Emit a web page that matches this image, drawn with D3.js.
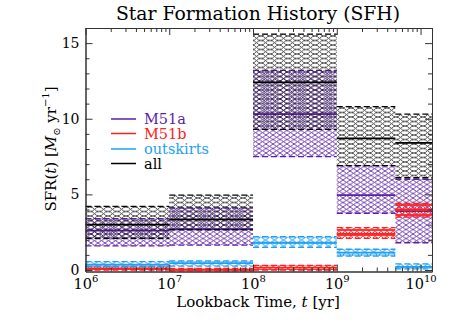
<!DOCTYPE html>
<html><head><meta charset="utf-8">
<script src="https://cdn.jsdelivr.net/npm/d3@7"></script>
<style>
body{margin:0;background:#fff;}
text{font-family:"DejaVu Serif",serif;}
</style></head>
<body><svg id="c" width="457" height="326"></svg>
<script>
// ---- data ----
const binEdges = [1e6, 1e7, 1e8, 1e9, 5e9, 1.37e10];
const seriesNames = ["M51a", "M51b", "outskirts", "all"];
const m51aVal = [2.6, 2.7, 10.3, 4.95, 3.9];
const m51aLo  = [1.6, 1.65, 7.5, 3.75, 1.8];
const m51aHi  = [3.4, 4.1, 13.2, 6.9, 6.0];
const m51bVal = [0.1, 0.02, 0.15, 2.4, 4.0];
const m51bLo  = [0.0, -0.05, 0.0, 2.1, 3.5];
const m51bHi  = [0.25, 0.1, 0.3, 2.8, 4.4];
const outVal  = [0.35, 0.45, 1.8, 1.15, 0.2];
const outLo   = [0.2, 0.26, 1.5, 0.92, 0.08];
const outHi   = [0.55, 0.6, 2.2, 1.37, 0.4];
const allVal  = [3.0, 3.35, 12.4, 8.7, 8.4];
const allLo   = [2.1, 2.65, 9.3, 6.9, 6.1];
const allHi   = [4.2, 4.95, 15.6, 10.8, 10.3];
const xTickVals = [1e6, 1e7, 1e8, 1e9, 1e10];
const xTickExp = ["6", "7", "8", "9", "10"];
const yTickVals = [0, 5, 10, 15];
const colors = {M51a:"#5b1fa8", M51b:"#ff2020", outskirts:"#1ea0f5", all:"#000000"};

const svg = d3.select("#c");
const L=85.5, R=432, T=28, B=271.5;
const x = d3.scaleLog().domain([1e6, 1.37e10]).range([L, R]);
const y = d3.scaleLinear().domain([-0.1, 16]).range([B, T]);

// patterns
const defs = svg.append("defs");
function pat(id, w, h, draw){
  const p = defs.append("pattern").attr("id", id).attr("patternUnits","userSpaceOnUse")
    .attr("width", w).attr("height", h);
  draw(p);
}
pat("pA", 7, 4.5, p => {
  p.append("path").attr("d","M0,0 L7,4.5 M0,4.5 L7,0")
   .attr("stroke", colors.M51a).attr("stroke-width",0.85).attr("fill","none");
});
pat("pAll", 18, 4.5, p => {
  p.append("path").attr("d","M0,0 C4.5,0 4.5,4.5 9,4.5 C13.5,4.5 13.5,0 18,0 M0,4.5 C4.5,4.5 4.5,0 9,0 C13.5,0 13.5,4.5 18,4.5")
   .attr("stroke", "#111").attr("stroke-width",0.75).attr("fill","none");
});
pat("pB", 6, 5, p => {
  p.append("path").attr("d","M0,4.5 L3,0.5 L6,4.5 M0,4.5 L6,4.5 M0,0.5 L6,0.5")
   .attr("stroke", colors.M51b).attr("stroke-width",0.9).attr("fill","none");
});
pat("pO", 9, 6, p => {
  p.append("ellipse").attr("cx",4.5).attr("cy",3).attr("rx",3.3).attr("ry",2.4)
   .attr("stroke", colors.outskirts).attr("stroke-width",0.9).attr("fill","none");
  p.append("path").attr("d","M0,3 L9,3").attr("stroke", colors.outskirts).attr("stroke-width",0.9);
});

const plot = svg.append("g");
const series = [
  {name:"M51a", val:m51aVal, lo:m51aLo, hi:m51aHi, pat:"pA"},
  {name:"all", val:allVal, lo:allLo, hi:allHi, pat:"pAll"},
  {name:"M51b", val:m51bVal, lo:m51bLo, hi:m51bHi, pat:"pB"},
  {name:"outskirts", val:outVal, lo:outLo, hi:outHi, pat:"pO"}
];
series.forEach(s => {
  const g = plot.append("g");
  const c = colors[s.name];
  s.val.forEach((v,i) => {
    const x0 = x(binEdges[i]), x1 = x(binEdges[i+1]);
    g.append("rect").attr("x",x0).attr("width",x1-x0)
      .attr("y", y(s.hi[i])).attr("height", y(s.lo[i]) - y(s.hi[i]))
      .attr("fill", `url(#${s.pat})`);
    [s.hi[i], s.lo[i]].forEach(e => {
      g.append("line").attr("x1",x0).attr("x2",x1).attr("y1",y(e)).attr("y2",y(e))
        .attr("stroke",c).attr("stroke-width",1.3).attr("stroke-dasharray","6,3");
    });
    g.append("line").attr("x1",x0).attr("x2",x1).attr("y1",y(v)).attr("y2",y(v))
      .attr("stroke",c).attr("stroke-width",1.8);
  });
});

// axes
const axCol = "#333";
const minorX = [];
for (let e=6;e<=10;e++) for (let m=2;m<=9;m++){ const v=m*Math.pow(10,e); if (v<=1.37e10) minorX.push(v); }
const minorY = d3.range(0, 16.01, 1).filter(v => yTickVals.indexOf(v) < 0);

function addAxis(gen, tr){
  return svg.append("g").attr("transform", tr).call(gen).call(g => g.select(".domain").attr("stroke",axCol))
    .call(g => g.selectAll(".tick line").attr("stroke",axCol));
}
// bottom
const bot = addAxis(d3.axisBottom(x).tickValues(xTickVals).tickSize(-7).tickSizeOuter(0).tickPadding(7), `translate(0,${B})`);
bot.selectAll(".tick text").each(function(d,i){
  const t = d3.select(this).text("").attr("font-size",14.5).attr("fill","#000").attr("font-family","DejaVu Serif");
  t.append("tspan").text("10");
  t.append("tspan").attr("font-size",10).attr("dy",-7).text(xTickExp[i]);
});
addAxis(d3.axisBottom(x).tickValues(minorX).tickSize(-4).tickSizeOuter(0).tickFormat(""), `translate(0,${B})`);
// top
addAxis(d3.axisTop(x).tickValues(xTickVals).tickSize(-7).tickSizeOuter(0).tickFormat(""), `translate(0,${T})`);
addAxis(d3.axisTop(x).tickValues(minorX).tickSize(-4).tickSizeOuter(0).tickFormat(""), `translate(0,${T})`);
// left
const left = addAxis(d3.axisLeft(y).tickValues(yTickVals).tickSize(-7).tickSizeOuter(0).tickPadding(6), `translate(${L},0)`);
left.selectAll(".tick text").attr("font-size",14).attr("fill","#000").attr("font-family","Liberation Sans");
addAxis(d3.axisLeft(y).tickValues(minorY).tickSize(-4).tickSizeOuter(0).tickFormat(""), `translate(${L},0)`);
// right
addAxis(d3.axisRight(y).tickValues(yTickVals).tickSize(-7).tickSizeOuter(0).tickFormat(""), `translate(${R},0)`);
addAxis(d3.axisRight(y).tickValues(minorY).tickSize(-4).tickSizeOuter(0).tickFormat(""), `translate(${R},0)`);

// title
svg.append("text").attr("x", 258).attr("y", 20).attr("text-anchor","middle")
  .attr("font-size",18.8).text("Star Formation History (SFH)");

// x label
const xl = svg.append("text").attr("x", 258).attr("y", 307).attr("text-anchor","middle").attr("font-size",15);
xl.append("tspan").text("Lookback Time, ");
xl.append("tspan").attr("font-style","italic").text("t");
xl.append("tspan").text(" [yr]");

// y label
const yl = svg.append("text").attr("transform","translate(56,149) rotate(-90)").attr("text-anchor","middle").attr("font-size",15);
yl.append("tspan").text("SFR(");
yl.append("tspan").attr("font-style","italic").text("t");
yl.append("tspan").text(") [");
yl.append("tspan").attr("font-style","italic").text("M");
yl.append("tspan").attr("font-size",10).attr("dy",4).text("\u2299");
yl.append("tspan").attr("dy",-4).text(" yr");
yl.append("tspan").attr("font-size",10).attr("dy",-7).text("\u22121");
yl.append("tspan").attr("dy",7).text("]");

// legend
const legY = [119, 133.5, 149, 163.5];
seriesNames.forEach((n,i) => {
  svg.append("line").attr("x1",111).attr("x2",136).attr("y1",legY[i]).attr("y2",legY[i])
    .attr("stroke",colors[n]).attr("stroke-width",1.5);
  svg.append("text").attr("x",144).attr("y",legY[i]+5).attr("font-size",14.5)
    .attr("fill",colors[n]).text(n);
});
</script></body></html>
